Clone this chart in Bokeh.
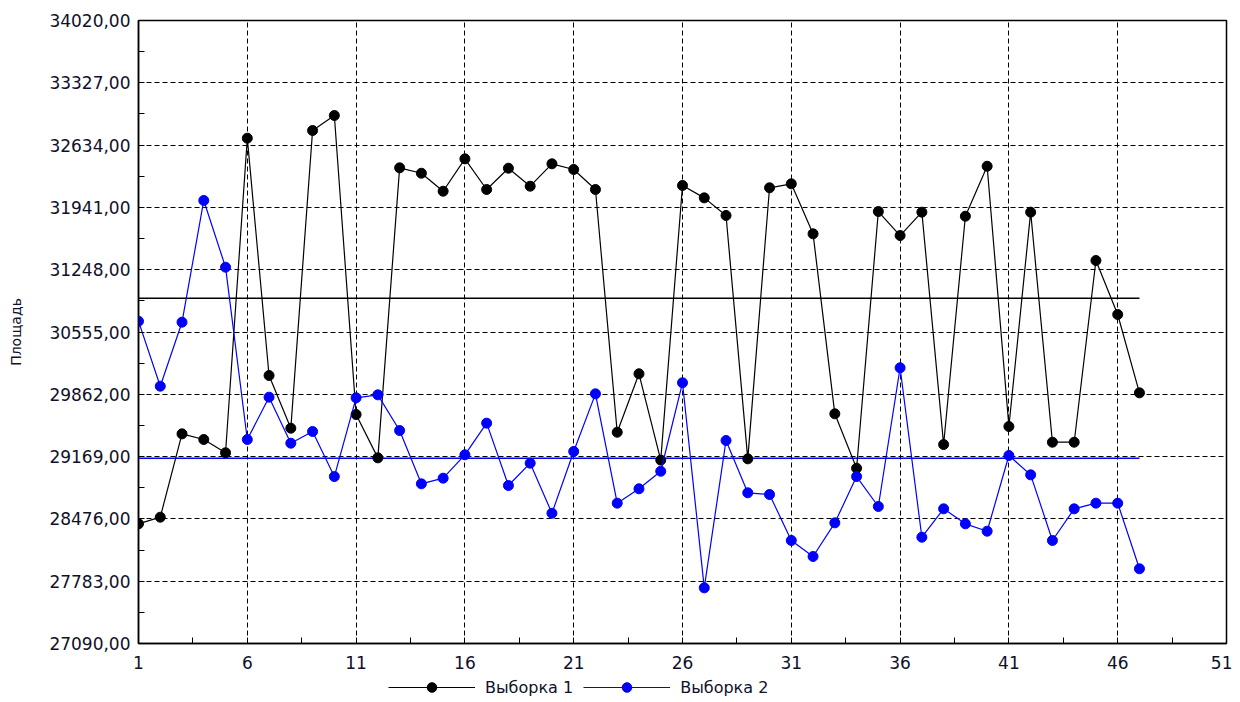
from bokeh.plotting import figure
from bokeh.layouts import column
from bokeh.models import FixedTicker, Legend, LegendItem, Range1d
from bokeh.embed import file_html
from bokeh.resources import INLINE

# ---- data ----
observations = list(range(1, 48))
sample1 = [28421, 28495, 29422, 29359, 29211, 32711, 30071, 29485, 32796, 32963,
           29637, 29155, 32381, 32321, 32121, 32481, 32140, 32377, 32177, 32426,
           32363, 32140, 29440, 30090, 29130, 32185, 32047, 31851, 29144, 32159,
           32203, 31647, 29645, 29040, 31895, 31628, 31888, 29303, 31843, 32399,
           29504, 31888, 29329, 29329, 31350, 30750, 29878]
sample2 = [30675, 29952, 30664, 32018, 31276, 29359, 29830, 29318, 29448, 28947,
           29823, 29856, 29459, 28866, 28929, 29189, 29541, 28847, 29096, 28539,
           29226, 29867, 28651, 28811, 29006, 29990, 27709, 29348, 28766, 28747,
           28236, 28058, 28432, 28947, 28614, 30157, 28272, 28588, 28421, 28339,
           29181, 28966, 28236, 28588, 28651, 28651, 27921]
mean_x = [1, 47]
mean1 = [30931, 30931]
mean2 = [29150, 29150]
series_names = ["Выборка 1", "Выборка 2"]
y_label = "Площадь"
x_ticks = [1, 6, 11, 16, 21, 26, 31, 36, 41, 46, 51]
x_minor = [3.5, 8.5, 13.5, 18.5, 23.5, 28.5, 33.5, 38.5, 43.5, 48.5]
y_ticks = [27090, 27783, 28476, 29169, 29862, 30555, 31248, 31941, 32634, 33327, 34020]
y_minor = [27436.5, 28129.5, 28822.5, 29515.5, 30208.5, 30901.5, 31594.5, 32287.5, 32980.5, 33673.5]
y_tick_labels = ["27090,00", "27783,00", "28476,00", "29169,00", "29862,00", "30555,00",
                 "31248,00", "31941,00", "32634,00", "33327,00", "34020,00"]

FONT = "DejaVu Sans"
TXT = "#10102a"
BLUE = "#0000ff"

p = figure(frame_width=1088, frame_height=623, output_backend="svg", toolbar_location=None,
           x_range=Range1d(1, 51), y_range=Range1d(27090, 34020),
           min_border_left=138, min_border_right=6, min_border_top=20, min_border_bottom=0)
p.background_fill_color = "white"
p.border_fill_color = "white"
p.outline_line_color = "black"
p.outline_line_width = 1.5

p.xaxis.ticker = FixedTicker(ticks=x_ticks, minor_ticks=x_minor)
p.yaxis.ticker = FixedTicker(ticks=y_ticks, minor_ticks=y_minor)
p.xgrid.ticker = FixedTicker(ticks=x_ticks)
p.ygrid.ticker = FixedTicker(ticks=y_ticks)
for g in (p.xgrid, p.ygrid):
    g.grid_line_color = "black"
    g.grid_line_dash = "5 3"
    g.grid_line_width = 1

p.yaxis.major_label_overrides = {t: l for t, l in zip(y_ticks, y_tick_labels)}
for ax in (p.xaxis, p.yaxis):
    ax.axis_line_color = "black"
    ax.axis_line_width = 1.5
    ax.major_tick_in = 6
    ax.major_tick_out = 0
    ax.minor_tick_in = 6
    ax.minor_tick_out = 0
    ax.major_tick_line_color = "black"
    ax.minor_tick_line_color = "black"
    ax.major_label_text_font = FONT
    ax.major_label_text_font_size = "17px"
    ax.major_label_text_color = TXT
p.yaxis.major_label_standoff = 8
p.xaxis.major_label_standoff = 12
p.yaxis.axis_label = y_label
p.yaxis.axis_label_text_font = FONT
p.yaxis.axis_label_text_font_size = "14px"
p.yaxis.axis_label_text_font_style = "normal"
p.yaxis.axis_label_text_color = TXT
p.yaxis.axis_label_standoff = 22

# mean lines
p.line(mean_x, mean1, line_color="black", line_width=1.5)
p.line(mean_x, mean2, line_color=BLUE, line_width=1.5)

p.line(observations, sample1, line_color="black", line_width=1.2)
p.scatter(observations, sample1, size=10, fill_color="black", line_color="black")
p.line(observations, sample2, line_color=BLUE, line_width=1.2)
p.scatter(observations, sample2, size=10, fill_color=BLUE, line_color=BLUE)

# ---- legend strip (separate small figure below the chart) ----
lg = figure(width=1232, height=28, output_backend="svg", toolbar_location=None,
            x_range=Range1d(-1000, -999), y_range=Range1d(-1000, -999),
            min_border_left=0, min_border_right=0, min_border_top=0, min_border_bottom=0)
lg.axis.visible = False
lg.grid.visible = False
lg.outline_line_color = None
lg.background_fill_color = "white"
lg.border_fill_color = "white"
k1 = lg.line(observations, sample1, line_color="black", line_width=1.2)
m1 = lg.scatter(observations, sample1, size=10, fill_color="black", line_color="black")
k2 = lg.line(observations, sample2, line_color=BLUE, line_width=1.2)
m2 = lg.scatter(observations, sample2, size=10, fill_color=BLUE, line_color=BLUE)

legend = Legend(items=[LegendItem(label=series_names[0], renderers=[k1, m1]),
                       LegendItem(label=series_names[1], renderers=[k2, m2])],
                orientation="horizontal", location=(250, 0),
                glyph_width=87, glyph_height=24, label_standoff=10, spacing=10,
                padding=0, margin=0, border_line_color=None, background_fill_alpha=0,
                label_text_font=FONT, label_text_font_size="16px",
                label_text_color=TXT)
lg.add_layout(legend, "center")

layout = column(p, lg, spacing=0)
open("out.html", "w").write(file_html(layout, INLINE))
